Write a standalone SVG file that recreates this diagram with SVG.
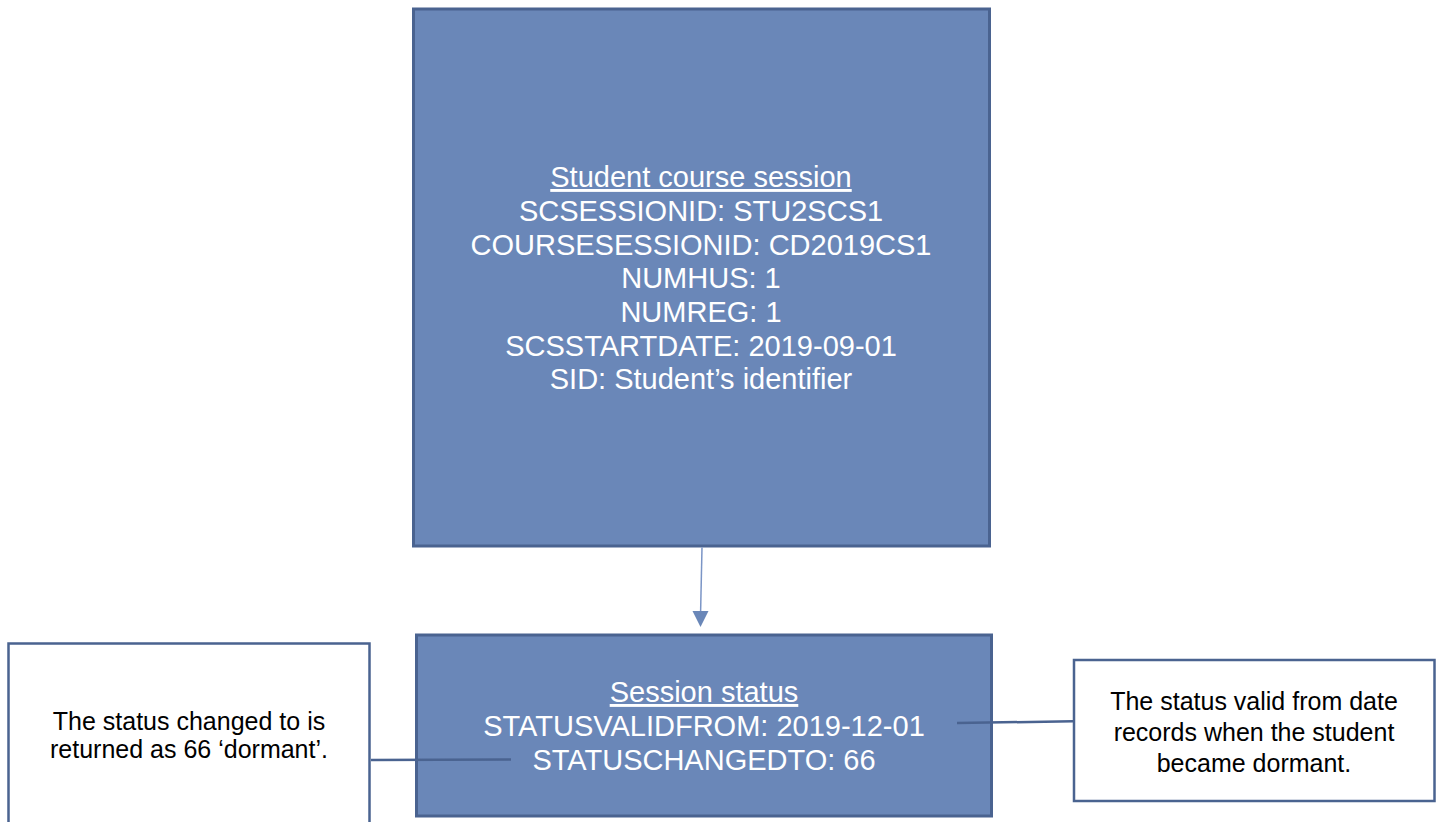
<svg xmlns="http://www.w3.org/2000/svg" width="1443" height="822" viewBox="0 0 1443 822">
<style>
.box{fill:#6a87b8;stroke:#4a6390;stroke-width:3}
.note{fill:#ffffff;stroke:#4a6390;stroke-width:2.5}
.t{font-family:"Liberation Sans",Arial,sans-serif;font-size:29px;fill:#ffffff;text-anchor:middle}
.n{font-family:"Liberation Sans",Arial,sans-serif;font-size:25px;fill:#000000;text-anchor:middle}
.u{text-decoration:underline}
.c{stroke:#4a6390;stroke-width:2.5;fill:none}
</style>
<rect width="1443" height="822" fill="#ffffff"/>
<g id="student-course-session">
<rect class="box" x="413.5" y="9" width="576" height="537"/>
<text class="t u" x="701" y="187">Student course session</text>
<text class="t" x="701" y="221">SCSESSIONID: STU2SCS1</text>
<text class="t" x="701" y="255">COURSESESSIONID: CD2019CS1</text>
<text class="t" x="701" y="288">NUMHUS: 1</text>
<text class="t" x="701" y="322">NUMREG: 1</text>
<text class="t" x="701" y="356">SCSSTARTDATE: 2019-09-01</text>
<text class="t" x="701" y="389">SID: Student’s identifier</text>
</g>
<g id="session-status">
<rect class="box" x="416.5" y="635" width="575" height="181"/>
<text class="t u" x="704" y="702">Session status</text>
<text class="t" x="704" y="736">STATUSVALIDFROM: 2019-12-01</text>
<text class="t" x="704" y="770">STATUSCHANGEDTO: 66</text>
</g>
<g id="note-left">
<rect class="note" x="8.5" y="643.5" width="361" height="190"/>
<text class="n" x="189" y="730">The status changed to is</text>
<text class="n" x="189" y="758">returned as 66 ‘dormant’.</text>
</g>
<g id="note-right">
<rect class="note" x="1074" y="660" width="360.5" height="141"/>
<text class="n" x="1254" y="710">The status valid from date</text>
<text class="n" x="1254" y="741">records when the student</text>
<text class="n" x="1254" y="772">became dormant.</text>
</g>
<g id="connectors">
<line x1="702" y1="547.5" x2="700.6" y2="612" stroke="#7b95c6" stroke-width="1.5"/>
<polygon points="692.5,611 708.5,611 700.5,627" fill="#6a87b8"/>
<line class="c" x1="371" y1="760" x2="511" y2="759.5"/>
<line class="c" x1="957" y1="723" x2="1073" y2="721.3"/>
</g>
</svg>
